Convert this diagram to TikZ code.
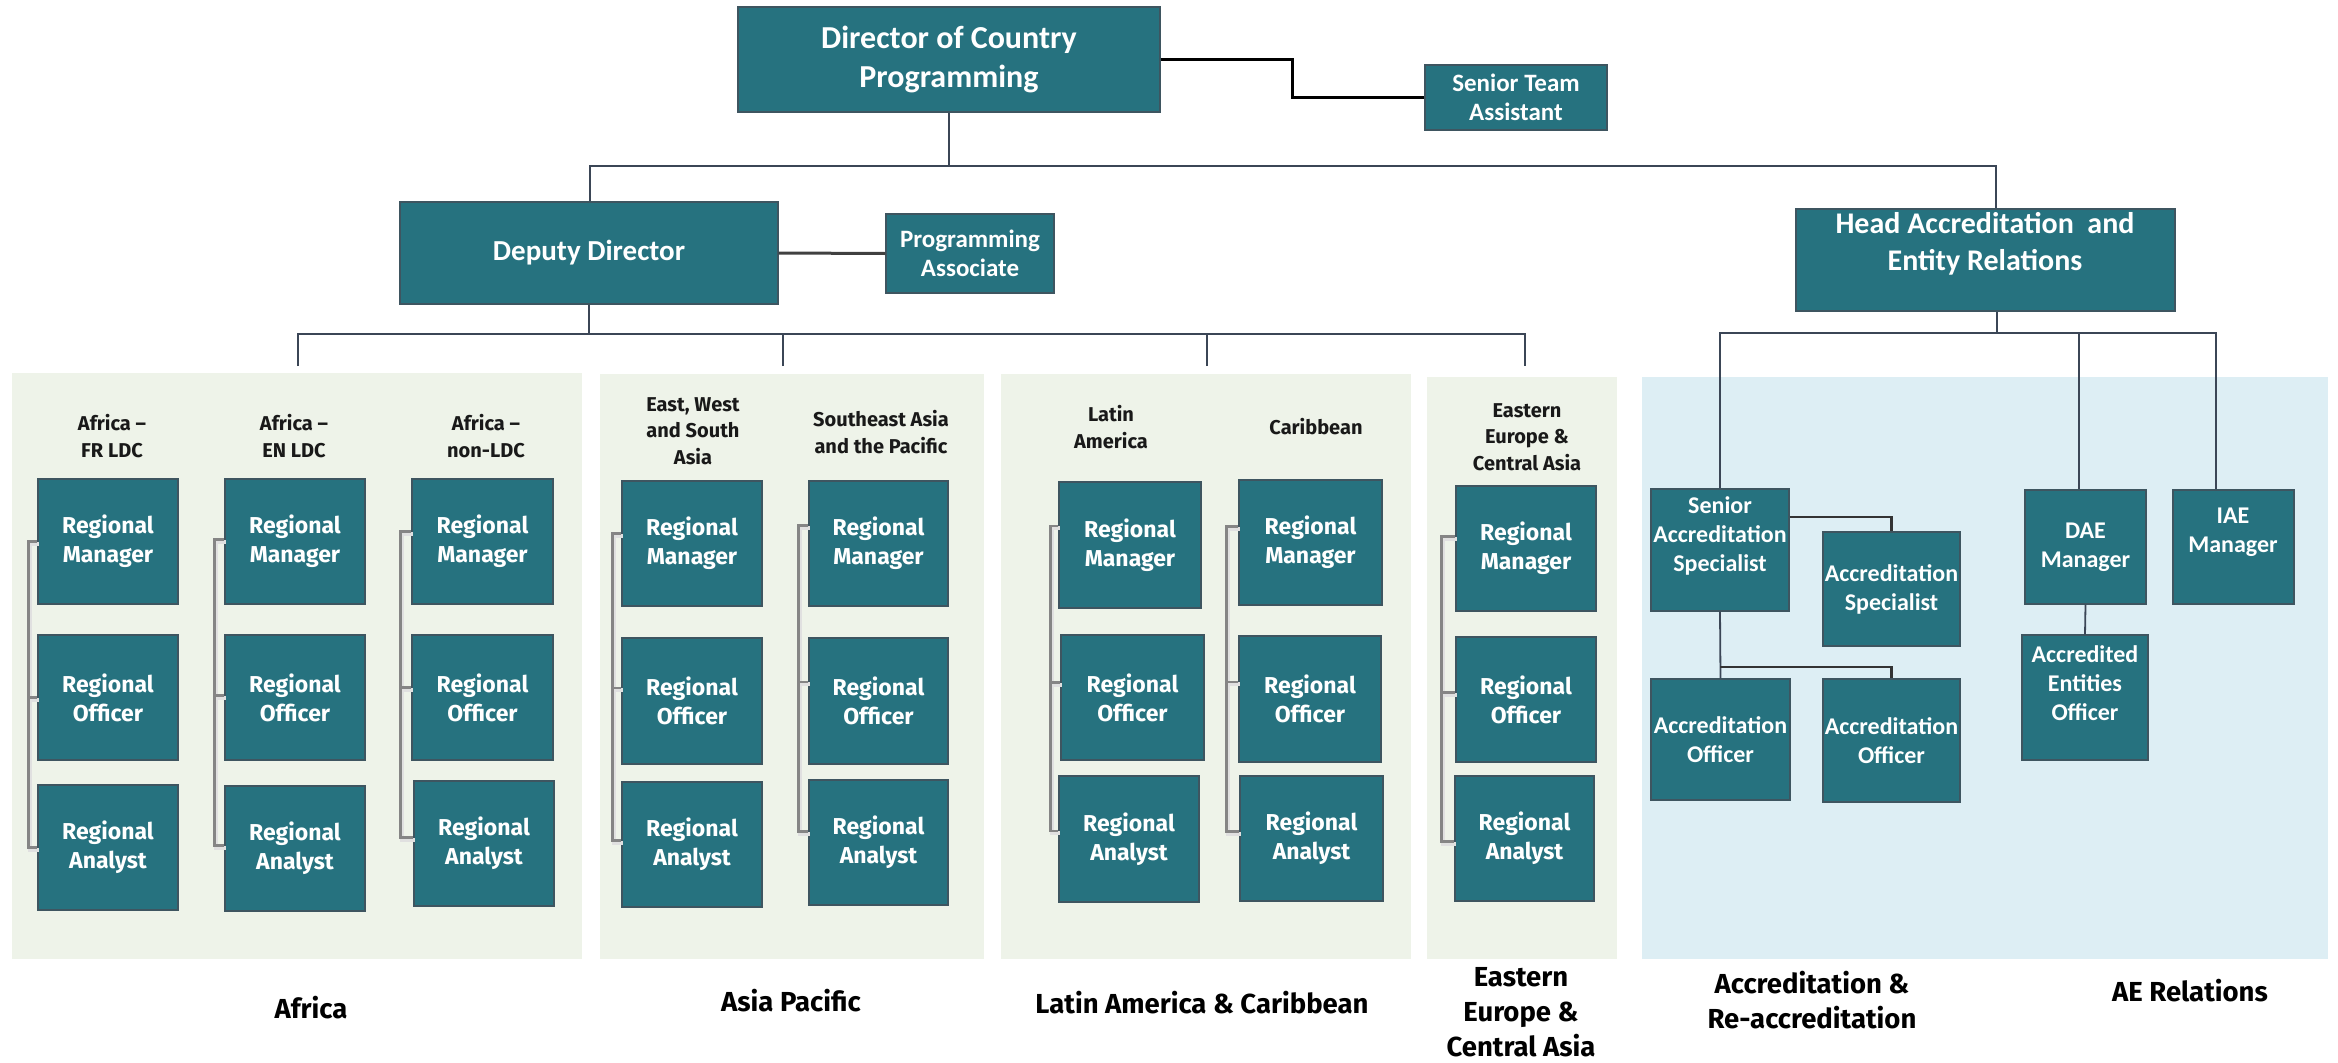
\documentclass[tikz,border=0pt]{standalone}
\usepackage{fontspec}
\setmainfont{Fira Sans}
\newfontfamily\calfont{Carlito}
\definecolor{teal1}{HTML}{26727F}
\definecolor{bord}{HTML}{3E5560}
\definecolor{pgreen}{HTML}{EEF3E9}
\definecolor{pblue}{HTML}{DDEEF4}
\definecolor{lineC}{HTML}{3B4656}
\definecolor{brkC}{HTML}{858585}
\tikzset{
  box/.style={draw=bord, line width=1.2pt, fill=teal1, text=white, align=center, inner sep=0pt,
    font=\bfseries\fontsize{23}{29}\selectfont},
  cbox/.style={box, font=\calfont\bfseries\fontsize{24}{29}\selectfont},
  ctext/.style={text=white, align=center, inner sep=0pt, font=\calfont\bfseries\fontsize{24}{29}\selectfont},
  head/.style={text=black!90, align=center, inner sep=0pt, font=\bfseries\fontsize{20}{26.5}\selectfont},
  bottom/.style={text=black, align=center, inner sep=0pt, font=\bfseries\fontsize{27.5}{35}\selectfont},
  conn/.style={draw=lineC, line width=1.8pt},
  topconn/.style={draw=black, line width=3pt},
  brk/.style={draw=brkC, line width=2.5pt,
    preaction={draw=black!12, line width=4pt, transform canvas={xshift=1.5pt,yshift=-2pt}}},
  panel/.style={fill=#1, draw=none}
}
\newcommand{\bx}[7][]{\node[box,#1,minimum width={#5-#3},minimum height={#6-#4}] (#2) at ({(#3+#5)/2},{(#4+#6)/2}) {#7};}
\newcommand{\brk}[7]{%
  \draw[brk] ([yshift=#5pt]#1.west) -- ++(-#4,0) |- ([yshift=#7pt]#3.west);
  \draw[brk] ([yshift=#6pt]#2.west) -- ++(-#4,0);}
\begin{document}
\begin{tikzpicture}[x=1pt,y=-1pt]
\useasboundingbox (0,0) rectangle (2338,1063);
% panels
\fill[panel=pgreen] (12,373) rectangle (582,959);
\fill[panel=pgreen] (600,374) rectangle (984,959);
\fill[panel=pgreen] (1001,374) rectangle (1411,959);
\fill[panel=pgreen] (1427,377) rectangle (1617,959);
\fill[panel=pblue] (1642,377) rectangle (2328,959);

% top level
\bx[cbox,font=\calfont\bfseries\fontsize{32}{39}\selectfont]{dir}{738}{7}{1160}{112}{Director of Country\\Programming}
\bx[cbox,font=\calfont\bfseries\fontsize{25}{29}\selectfont]{sta}{1425}{65}{1607}{130}{Senior Team\\Assistant}
\bx[cbox,font=\calfont\bfseries\fontsize{29}{34}\selectfont]{dep}{400}{202}{778}{304}{Deputy Director}
\bx[cbox,font=\calfont\bfseries\fontsize{25}{29}\selectfont]{pa}{886}{214}{1054}{293}{Programming\\Associate}
\bx[cbox]{hd}{1796}{209}{2175}{311}{}
\node[ctext,font=\calfont\bfseries\fontsize{30}{37}\selectfont] (hdT) at (1985,244) {Head Accreditation~ and\\Entity Relations};

% accreditation
\bx[cbox]{sas}{1651}{489}{1789}{611}{}
\node[ctext] (sasT) at (1720,536) {Senior\\Accreditation\\Specialist};
\bx[cbox]{as}{1823}{532}{1960}{646}{Accreditation\\Specialist}
\bx[cbox]{ao1}{1651}{679}{1790}{800}{Accreditation\\Officer}
\bx[cbox]{ao2}{1823}{679}{1960}{802}{Accreditation\\Officer}
\bx[cbox]{dae}{2025}{490}{2146}{604}{DAE\\Manager}
\bx[cbox]{aeo}{2022}{635}{2148}{760}{}
\node[ctext] (aeoT) at (2085,683) {Accredited\\Entities\\Officer};
\bx[cbox]{iae}{2173}{490}{2294}{604}{}
\node[ctext] (iaeT) at (2233,532) {IAE\\Manager};

% Africa
\bx{a1m}{38}{479}{178}{604}{Regional\\Manager}
\bx{a1o}{38}{635}{178}{760}{Regional\\Officer}
\bx{a1a}{38}{785}{178}{910}{Regional\\Analyst}
\bx{a2m}{225}{479}{365}{604}{Regional\\Manager}
\bx{a2o}{225}{635}{365}{760}{Regional\\Officer}
\bx{a2a}{225}{786}{365}{911}{Regional\\Analyst}
\bx{a3m}{412}{479}{553}{604}{Regional\\Manager}
\bx{a3o}{412}{635}{553}{760}{Regional\\Officer}
\bx{a3a}{414}{781}{554}{906}{Regional\\Analyst}
% Asia
\bx{e1m}{622}{481}{762}{606}{Regional\\Manager}
\bx{e1o}{622}{638}{762}{764}{Regional\\Officer}
\bx{e1a}{622}{782}{762}{907}{Regional\\Analyst}
\bx{e2m}{809}{481}{948}{606}{Regional\\Manager}
\bx{e2o}{809}{638}{948}{764}{Regional\\Officer}
\bx{e2a}{809}{780}{948}{905}{Regional\\Analyst}
% Latin
\bx{l1m}{1059}{482}{1201}{608}{Regional\\Manager}
\bx{l1o}{1061}{635}{1204}{760}{Regional\\Officer}
\bx{l1a}{1059}{776}{1199}{902}{Regional\\Analyst}
\bx{l2m}{1239}{480}{1382}{605}{Regional\\Manager}
\bx{l2o}{1239}{636}{1381}{762}{Regional\\Officer}
\bx{l2a}{1240}{776}{1383}{901}{Regional\\Analyst}
% Eastern
\bx{r1m}{1456}{486}{1596}{611}{Regional\\Manager}
\bx{r1o}{1456}{637}{1596}{762}{Regional\\Officer}
\bx{r1a}{1455}{776}{1594}{901}{Regional\\Analyst}

% brackets
\brk{a1m}{a1o}{a1a}{9}{0}{0}{0}
\brk{a2m}{a2o}{a2a}{10}{2}{2}{3}
\brk{a3m}{a3o}{a3a}{11}{10}{10}{6}
\brk{e1m}{e1o}{e1a}{9}{10}{13}{4}
\brk{e2m}{e2o}{e2a}{10}{18}{19}{11}
\brk{l1m}{l1o}{l1a}{8}{19}{15}{8}
\brk{l2m}{l2o}{l2a}{12}{16}{17}{7}
\brk{r1m}{r1o}{r1a}{14}{12}{7}{-3}

% headings
\node[head] (h1) at (112,436) {Africa –\\FR LDC};
\node[head] (h2) at (294,436) {Africa –\\EN LDC};
\node[head] (h3) at (486,436) {Africa –\\non-LDC};
\node[head] (h4) at (693,431) {East, West\\and South\\Asia};
\node[head] (h5) at (881,432) {Southeast Asia\\and the Pacific};
\node[head] (h6) at (1111,427) {Latin\\America};
\node[head] (h7) at (1316,427) {Caribbean};
\node[head] (h8) at (1527,437) {Eastern\\Europe \&\\Central Asia};

% bottom labels
\node[bottom] (g1) at (311,1008) {Africa};
\node[bottom] (g2) at (791,1001) {Asia Pacific};
\node[bottom] (g3) at (1202,1003) {Latin America \& Caribbean};
\node[bottom] (g4) at (1521,1012) {Eastern\\Europe \&\\Central Asia};
\node[bottom] (g5) at (1812,1000) {Accreditation \&\\Re-accreditation};
\node[bottom] (g6) at (2190,991) {AE Relations};

% connectors
\coordinate (b1l) at (590,166);
\coordinate (b1r) at (1996,166);
\draw[conn] (dir.south) -- (dir.south |- b1l);
\draw[conn] (dep.north -| b1l) |- (b1r) -- (hd.north -| b1r);
\draw[topconn] (dir.east) -- ++(132,0) |- (sta.west);
\draw[conn, draw=black!75, line width=3pt] (dep.east) -- (pa.west);

\coordinate (b2c) at (589,334);
\coordinate (d1) at (298,366);
\coordinate (d2) at (783,366);
\coordinate (d3) at (1207,366);
\coordinate (d4) at (1525,366);
\draw[conn] (dep.south) -- (b2c);
\draw[conn] (d1) |- (b2c) -| (d4);
\draw[conn] (d2) -- (d2 |- b2c);
\draw[conn] (d3) -- (d3 |- b2c);

\coordinate (hbL) at (1720,333);
\coordinate (hbT) at (1997,333);
\coordinate (hbM) at (2079,333);
\coordinate (hbR) at (2216,333);
\draw[conn] (hd.south -| hbT) -- (hbT);
\draw[conn] (sas.north) -- (hbL) -- (hbR) -- (iae.north -| hbR);
\draw[conn] (hbM) -- (dae.north -| hbM);
\draw[conn, draw=black!80, line width=2.5pt] ([yshift=33pt]sas.east) -| (as.north);
\coordinate (ob) at (1720,667);
\draw[conn] (sas.south) -- (ao1.north);
\draw[conn, draw=black!80, line width=2.5pt] (ob) -| (ao2.north);
\draw[conn] (dae.south) -- (aeo.north);
\end{tikzpicture}
\end{document}
